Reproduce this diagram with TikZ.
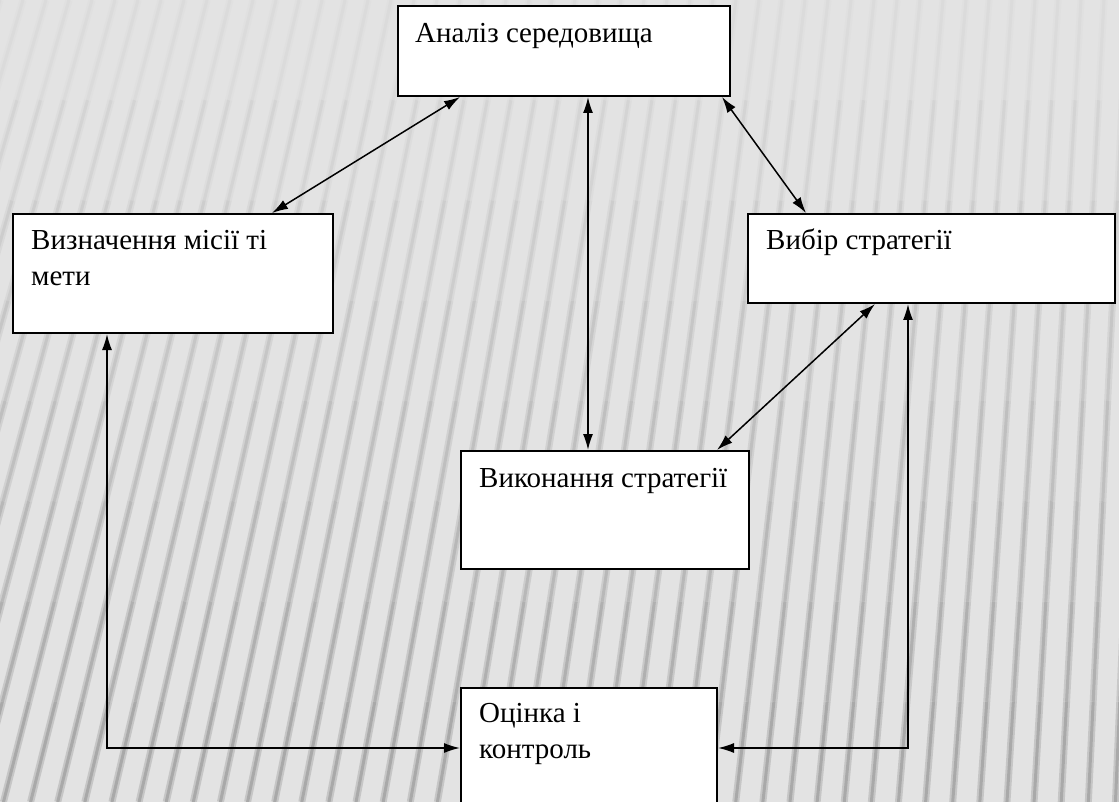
\documentclass[tikz,border=0pt]{standalone}
\usepackage{fontspec}
\setmainfont{Liberation Serif}
\usetikzlibrary{arrows.meta,calc}
\begin{document}
\begin{tikzpicture}[x=1pt,y=-1pt,
  box/.style={draw=black,line width=2pt,fill=white,rectangle,inner sep=0pt,anchor=north west},
  lbl/.style={font=\fontsize{29}{35.5}\selectfont,align=left,inner sep=0pt},
  tip/.tip={Latex[length=16pt,width=10pt]},
  link/.style={line width=1.5pt,tip-tip}]
\useasboundingbox (0,0) rectangle (1119,802);
% background
\begin{scope}
\clip (0,0) rectangle (1119,802);
\fill[black!11] (0,0) rectangle (1119,802);
\foreach \k in {0,...,50}{
  \pgfmathsetmacro{\xa}{\k*23}
  \pgfmathsetmacro{\s}{0.3-0.25*\xa/1119}
  \foreach \j in {0,...,7}{
    \pgfmathsetmacro{\ya}{\j*802/8}
    \pgfmathsetmacro{\yb}{(\j+1)*802/8}
    \pgfmathsetmacro{\c}{12+1.5*\j}
    \pgfmathsetmacro{\d}{14+2.8*\j}
    \draw[line width=7pt, color=black!\c] (\xa-\s*\ya,\ya) -- (\xa-\s*\yb,\yb);
    \draw[line width=3pt, color=black!\d] (\xa-\s*\ya,\ya) -- (\xa-\s*\yb,\yb);
  }
}
\end{scope}
% boxes
\node[box,minimum width=332pt,minimum height=90pt] (env) at (397,5) {};
\node[box,minimum width=320pt,minimum height=119pt] (mis) at (12,213) {};
\node[box,minimum width=367pt,minimum height=89pt] (choice) at (747,213) {};
\node[box,minimum width=288pt,minimum height=118pt] (exec) at (460,450) {};
\node[box,minimum width=256pt,minimum height=130pt] (eval) at (460,687) {};
% labels
\node[lbl,anchor=base west] (tenv) at (415,43) {Аналіз середовища};
\node[lbl,anchor=north west] (tmis) at (31,230.5) {Визначення місії ті\\мети};
\node[lbl,anchor=base west] (tchoice) at (766,250) {Вибір стратегії};
\node[lbl,anchor=base west] (texec) at (479,487) {Виконання стратегії};
\node[lbl,anchor=north west] (teval) at (479,703.5) {Оцінка і\\контроль};
% connectors
\draw[link] ([xshift=63pt]env.south west) -- ([xshift=260pt]mis.north west);
\draw[link] ([xshift=191pt]env.south west) -- ([xshift=128pt]exec.north west);
\draw[link] ([xshift=325pt]env.south west) -- ([xshift=59pt]choice.north west);
\draw[link] ([xshift=128pt]choice.south west) -- ([xshift=257pt]exec.north west);
\draw[link] ([xshift=161pt]choice.south west) |- ([yshift=5pt]eval.east);
\draw[link] ([xshift=95pt]mis.south west) |- ([yshift=5pt]eval.west);
\end{tikzpicture}
\end{document}
